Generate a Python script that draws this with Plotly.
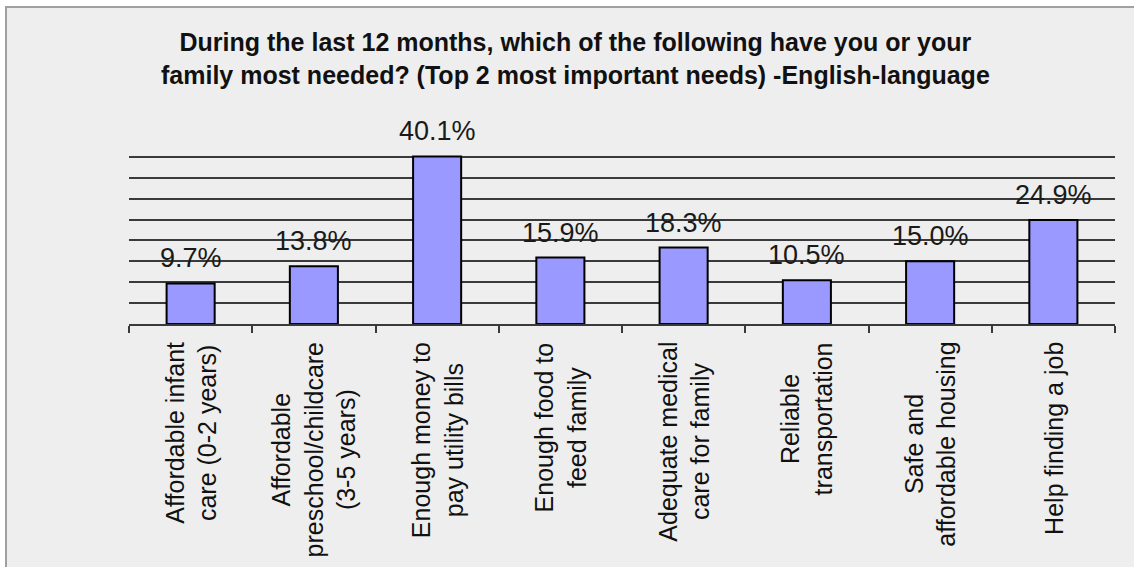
import plotly.graph_objects as go

# Survey results: share of respondents naming each need among their top two
categories = [
    "Affordable infant<br>care (0-2 years)",
    "Affordable<br>preschool/childcare<br>(3-5 years)",
    "Enough money to<br>pay utility bills",
    "Enough food to<br>feed family",
    "Adequate medical<br>care for family",
    "Reliable<br>transportation",
    "Safe and<br>affordable housing",
    "Help finding a job",
]
values = [9.7, 13.8, 40.1, 15.9, 18.3, 10.5, 15.0, 24.9]
value_labels = [f"{v:.1f}%" for v in values]

title_text = ("<b>During the last 12 months, which of the following have you or your<br>"
              "family most needed? (Top 2 most important needs) -English-language</b>")

FONT = "Liberation Sans, Arial, sans-serif"
BG = "#eeeeee"

fig = go.Figure(
    go.Bar(
        x=categories,
        y=values,
        marker=dict(color="#9999ff", line=dict(color="#000000", width=2)),
        hoverinfo="skip",
    )
)

annotations = []
# value labels above each bar
for c, v, t in zip(categories, values, value_labels):
    annotations.append(dict(
        x=c, y=v, xref="x", yref="y", text=t, showarrow=False,
        yanchor="bottom", yshift=8,
        font=dict(family=FONT, size=27, color="#1a1a1a"),
    ))
# rotated category labels under the axis, lines centred
for c in categories:
    annotations.append(dict(
        x=c, y=0, xref="x", yref="paper", text=c, showarrow=False,
        textangle=-90, align="center", xanchor="center", yanchor="top",
        yshift=-16,
        font=dict(family=FONT, size=25, color="#111111"),
    ))
# chart title
annotations.append(dict(
    x=(575 - 129) / 986, y=1, xref="paper", yref="paper",
    text=title_text, showarrow=False, xanchor="center", yanchor="bottom",
    yshift=45, align="center",
    font=dict(family=FONT, size=25, color="#111111"),
))

fig.update_layout(
    width=1134, height=567,
    margin=dict(l=129, r=19, t=136, b=243),
    paper_bgcolor="#ffffff",
    plot_bgcolor=BG,
    bargap=0.61,
    showlegend=False,
    annotations=annotations,
    shapes=[dict(
        type="rect", xref="paper", yref="paper", layer="below",
        x0=-123 / 986, x1=1.5, y0=-2, y1=(324 - 7) / 188,
        fillcolor=BG, line=dict(color="#a0a0a0", width=2),
    )],
)

fig.update_yaxes(
    range=[0, 45], dtick=5, showticklabels=False, ticks="",
    showgrid=True, gridcolor="#3a3a3a", gridwidth=1.5,
    zeroline=False, showline=False,
)
fig.update_xaxes(
    showticklabels=False, showgrid=False, zeroline=False,
    showline=True, linecolor="#3a3a3a", linewidth=1.5,
    ticks="outside", tickson="boundaries", ticklen=7,
    tickcolor="#3a3a3a", tickwidth=1.5,
)

fig.write_html("out.html")
